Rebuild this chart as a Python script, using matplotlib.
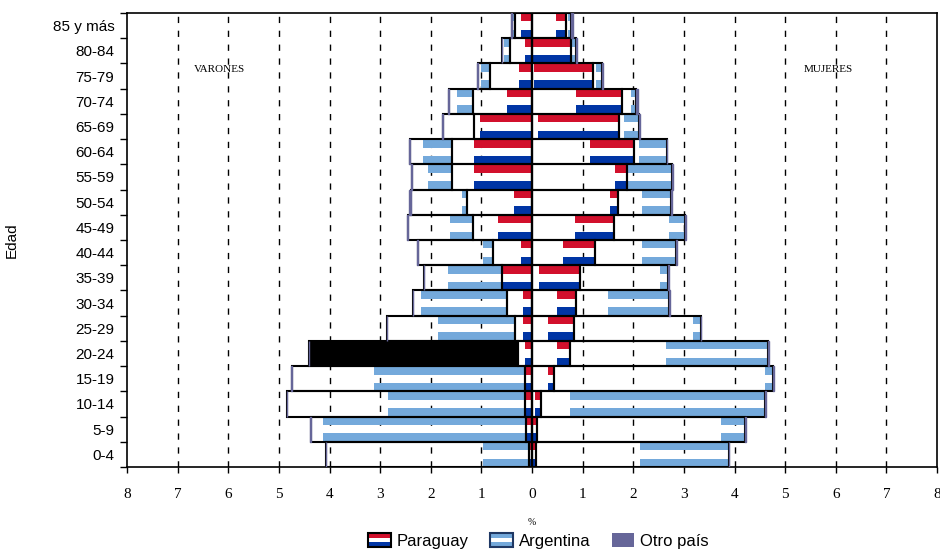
import matplotlib.pyplot as plt
from matplotlib.patches import Patch, Rectangle
from matplotlib.legend_handler import HandlerBase

edades = ['0-4', '5-9', '10-14', '15-19', '20-24', '25-29', '30-34', '35-39', '40-44',
          '45-49', '50-54', '55-59', '60-64', '65-69', '70-74', '75-79', '80-84', '85 y más']

# Varones (%): segment length and the part of it drawn with the flag stripes
par_h = [0.05, 0.11, 0.13, 0.13, 0.27, 0.34, 0.49, 0.60, 0.78, 1.16, 1.28, 1.59, 1.59, 1.14, 1.16, 0.83, 0.43, 0.33]
par_h_rayas = [0.05, 0.11, 0.13, 0.13, 0.13, 0.17, 0.17, 0.58, 0.22, 0.67, 0.36, 1.14, 1.14, 1.03, 0.49, 0.26, 0.14, 0.21]
arg_h = [4.01, 4.26, 4.70, 4.62, 4.14, 2.52, 1.86, 1.53, 1.48, 1.28, 1.12, 0.79, 0.82, 0.61, 0.47, 0.23, 0.16, 0.06]
arg_h_rayas = [0.92, 4.01, 2.71, 3.00, 0.00, 1.52, 1.70, 1.05, 0.19, 0.46, 0.11, 0.46, 0.57, 0.00, 0.32, 0.18, 0.13, 0.05]
otro_h = [0.00, 0.02, 0.01, 0.01, 0.00, 0.01, 0.00, 0.01, 0.01, 0.02, 0.02, 0.02, 0.02, 0.02, 0.03, 0.02, 0.01, 0.03]

# Mujeres (%)
par_m = [0.07, 0.09, 0.18, 0.44, 0.75, 0.82, 0.87, 0.95, 1.25, 1.62, 1.69, 1.87, 2.02, 1.71, 1.78, 1.21, 0.78, 0.67]
par_m_rayas = [0.05, 0.08, 0.12, 0.13, 0.26, 0.51, 0.38, 0.82, 0.63, 0.77, 0.14, 0.23, 0.87, 1.60, 0.91, 1.17, 0.77, 0.20]
arg_m = [3.82, 4.12, 4.43, 4.32, 3.92, 2.51, 1.84, 1.74, 1.59, 1.40, 1.05, 0.89, 0.64, 0.41, 0.28, 0.17, 0.08, 0.10]
arg_m_rayas = [1.75, 0.48, 3.85, 0.15, 2.02, 0.15, 1.20, 0.17, 0.67, 0.31, 0.56, 0.87, 0.55, 0.30, 0.10, 0.12, 0.07, 0.05]
otro_m = [0.00, 0.02, 0.01, 0.02, 0.01, 0.01, 0.02, 0.02, 0.02, 0.02, 0.02, 0.02, 0.01, 0.02, 0.03, 0.02, 0.03, 0.03]

# the 20-24 male Argentina bar shows up solid black in the original
barra_negra = '20-24'

ROJO = '#D2102C'
AZUL = '#0035A5'
CELESTE = '#74A9DB'
OTRO = '#666699'


def draw_stripes(ax, y, left, width, top, bottom):
    ax.barh([v + 1/3 for v in y], width, left=left, height=1/3, color=top, linewidth=0, zorder=2)
    ax.barh([v - 1/3 for v in y], width, left=left, height=1/3, color=bottom, linewidth=0, zorder=2)


class FlagHandler(HandlerBase):
    def __init__(self, colors, edge):
        super().__init__()
        self.colors = colors
        self.edge = edge

    def create_artists(self, legend, orig_handle, xdescent, ydescent, width, height, fontsize, trans):
        arts = []
        h = height / 3
        for i, c in enumerate(self.colors):
            arts.append(Rectangle((-xdescent, -ydescent + h * (2 - i)), width, h,
                                  facecolor=c, edgecolor='none', transform=trans))
        if self.edge is not None:
            arts.append(Rectangle((-xdescent, -ydescent), width, height, facecolor='none',
                                  edgecolor=self.edge, linewidth=1.5, transform=trans))
        return arts


fig = plt.figure(figsize=(9.4, 5.51), dpi=100)
ax = fig.add_axes([127 / 940, 84 / 551, 810 / 940, 454 / 551])

y = list(range(len(edades)))

# dashed vertical grid
for v in range(-7, 8):
    if v != 0:
        ax.axvline(v, color='black', linewidth=1, linestyle=(0, (4.5, 5.5)), zorder=1)

# men (left side, negative)
draw_stripes(ax, y, [-f for f in par_h_rayas], par_h_rayas, ROJO, AZUL)
draw_stripes(ax, y, [-(p + f) for p, f in zip(par_h, arg_h_rayas)], arg_h_rayas, CELESTE, CELESTE)
ax.barh(y, [-p for p in par_h], left=0, height=1, color='none', edgecolor='black', linewidth=1.5, zorder=3)
ax.barh(y, [-a for a in arg_h], left=[-p for p in par_h], height=1,
        color=['black' if e == barra_negra else 'none' for e in edades],
        edgecolor='black', linewidth=1.5, zorder=3)
ax.barh(y, [-o for o in otro_h], left=[-(p + a) for p, a in zip(par_h, arg_h)], height=1,
        color=OTRO, edgecolor=OTRO, linewidth=1, zorder=3)

# women (right side)
draw_stripes(ax, y, [p - f for p, f in zip(par_m, par_m_rayas)], par_m_rayas, ROJO, AZUL)
draw_stripes(ax, y, [p + a - f for p, a, f in zip(par_m, arg_m, arg_m_rayas)], arg_m_rayas, CELESTE, CELESTE)
ax.barh(y, par_m, left=0, height=1, color='none', edgecolor='black', linewidth=1.5, zorder=3)
ax.barh(y, arg_m, left=par_m, height=1, color='none', edgecolor='black', linewidth=1.5, zorder=3)
ax.barh(y, otro_m, left=[p + a for p, a in zip(par_m, arg_m)], height=1,
        color=OTRO, edgecolor=OTRO, linewidth=1, zorder=3)

ax.axvline(0, color='black', linewidth=1.6, zorder=4)

ax.set_xlim(-8, 8)
ax.set_ylim(-0.5, len(edades) - 0.5)

ticks = list(range(-8, 9))
ax.set_xticks(ticks)
ax.set_xticklabels([str(abs(t)) for t in ticks], family='Liberation Serif', fontsize=11)
ax.tick_params(axis='x', length=4, width=1, pad=11)

ax.set_yticks(y)
ax.set_yticklabels(edades, family='Liberation Sans', fontsize=11)
ax.set_yticks([v - 0.5 for v in range(len(edades) + 1)], minor=True)
ax.tick_params(axis='y', which='major', length=0, pad=9)
ax.tick_params(axis='y', which='minor', length=5, width=1)

for s in ax.spines.values():
    s.set_linewidth(1.2)
    s.set_color('black')

ax.set_ylabel('Edad', family='Liberation Sans', fontsize=11)
ax.yaxis.set_label_coords(-0.134, 0.5)
ax.set_xlabel('%', family='Liberation Serif', fontsize=7)
ax.xaxis.set_label_coords(0.5, -0.112)

ax.text(-6.17, 15.25, 'VARONES', family='Liberation Serif', fontsize=8, ha='center', va='center')
ax.text(5.85, 15.25, 'MUJERES', family='Liberation Serif', fontsize=8, ha='center', va='center')

h_par = Patch(label='Paraguay')
h_arg = Patch(label='Argentina')
h_otro = Patch(label='Otro país')
fig.legend(handles=[h_par, h_arg, h_otro], loc='center', bbox_to_anchor=(0.573, 0.018), ncol=3,
           frameon=False, prop={'family': 'Liberation Sans', 'size': 12},
           handlelength=1.35, handleheight=0.85, handletextpad=0.35, columnspacing=1.3,
           handler_map={h_par: FlagHandler([ROJO, 'white', AZUL], 'black'),
                        h_arg: FlagHandler([CELESTE, 'white', CELESTE], '#1F3864'),
                        h_otro: FlagHandler([OTRO, OTRO, OTRO], None)})

fig.savefig('out.png', dpi=100)
